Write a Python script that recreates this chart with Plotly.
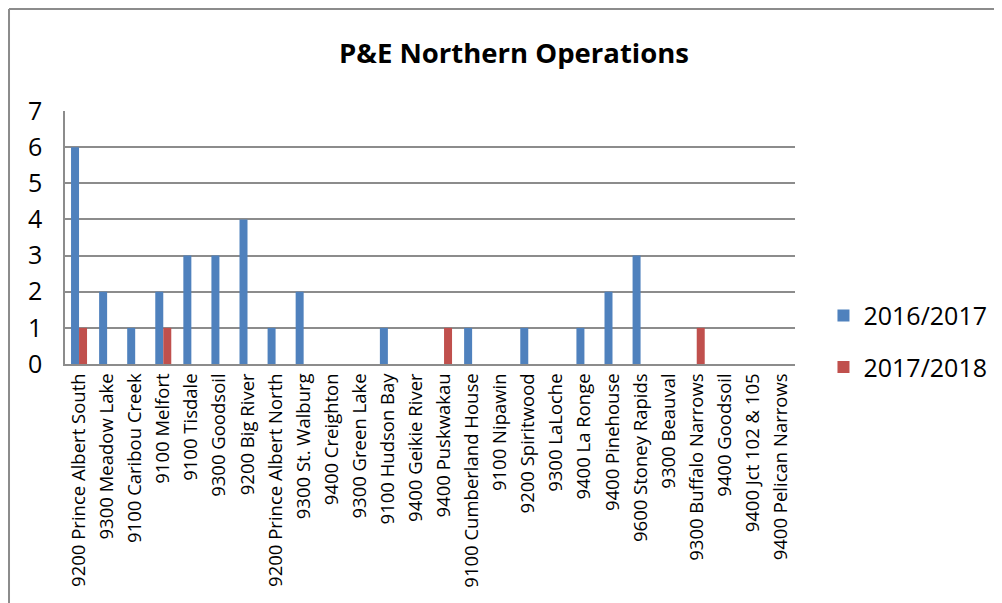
import plotly.graph_objects as go

# P&E Northern Operations - counts per location
locations = [
    "9200 Prince Albert South",
    "9300 Meadow Lake",
    "9100 Caribou Creek",
    "9100 Melfort",
    "9100 Tisdale",
    "9300 Goodsoil",
    "9200 Big River",
    "9200 Prince Albert North",
    "9300 St. Walburg",
    "9400 Creighton",
    "9300 Green Lake",
    "9100 Hudson Bay",
    "9400 Geikie River",
    "9400 Puskwakau",
    "9100 Cumberland House",
    "9100 Nipawin",
    "9200 Spiritwood",
    "9300 LaLoche",
    "9400 La Ronge",
    "9400 Pinehouse",
    "9600 Stoney Rapids",
    "9300 Beauval",
    "9300 Buffalo Narrows",
    "9400 Goodsoil",
    "9400 Jct 102 & 105",
    "9400 Pelican Narrows",
]
season_2016_17 = [6, 2, 1, 2, 3, 3, 4, 1, 2, 0, 0, 1, 0, 0, 1, 0, 1, 0, 1, 2, 3, 0, 0, 0, 0, 0]
season_2017_18 = [1, 0, 0, 1, 0, 0, 0, 0, 0, 0, 0, 0, 0, 1, 0, 0, 0, 0, 0, 0, 0, 0, 1, 0, 0, 0]
y_ticks = [0, 1, 2, 3, 4, 5, 6, 7]

FONT = "Open Sans"
GRID = "#8c8c8c"

fig = go.Figure()
fig.add_trace(
    go.Bar(
        x=locations,
        y=season_2016_17,
        name="2016/2017",
        legendgroup="a",
        marker=dict(color="#4F81BD", line=dict(width=0)),
    )
)
fig.add_trace(
    go.Bar(
        x=locations,
        y=season_2017_18,
        name="2017/2018",
        legendgroup="b",
        marker=dict(color="#C0504D", line=dict(width=0)),
    )
)

# the page body adds an 8px offset, so margins are shifted by that much
fig.update_layout(
    width=1002,
    height=603,
    margin=dict(l=57, r=215, t=103, b=247),
    paper_bgcolor="white",
    plot_bgcolor="white",
    barmode="group",
    bargap=0.43,
    bargroupgap=0,
    title=dict(
        text="<b>P&E Northern Operations</b>",
        x=0.505,
        xanchor="center",
        y=0.925,
        yanchor="middle",
        font=dict(family=FONT, size=27.5, color="black"),
    ),
    legend=dict(
        x=1.039,
        xanchor="left",
        y=0.09,
        yanchor="middle",
        font=dict(family=FONT, size=25, color="black"),
        traceorder="grouped",
        tracegroupgap=16,
        itemwidth=30,
    ),
    showlegend=True,
)

fig.update_xaxes(
    type="category",
    tickangle=-90,
    tickfont=dict(family=FONT, size=18.5, color="black"),
    showline=True,
    linecolor=GRID,
    linewidth=2,
    showgrid=False,
    ticks="",
)
fig.update_yaxes(
    range=[0, 7],
    tickvals=y_ticks,
    tickfont=dict(family=FONT, size=25, color="black"),
    showgrid=True,
    gridcolor=GRID,
    gridwidth=1.5,
    showline=True,
    linecolor=GRID,
    linewidth=1.5,
    mirror=False,
    ticks="",
    ticklabelstandoff=16,
    zeroline=False,
)

# outer chart border (left + top)
fig.add_shape(type="line", xref="paper", yref="paper", x0=-0.0767, x1=1.3,
              y0=1.403, y1=1.403, line=dict(color=GRID, width=2))
fig.add_shape(type="line", xref="paper", yref="paper", x0=-0.0767, x1=-0.0767,
              y0=1.403, y1=-1.0, line=dict(color=GRID, width=2))

fig.write_html("out.html")
